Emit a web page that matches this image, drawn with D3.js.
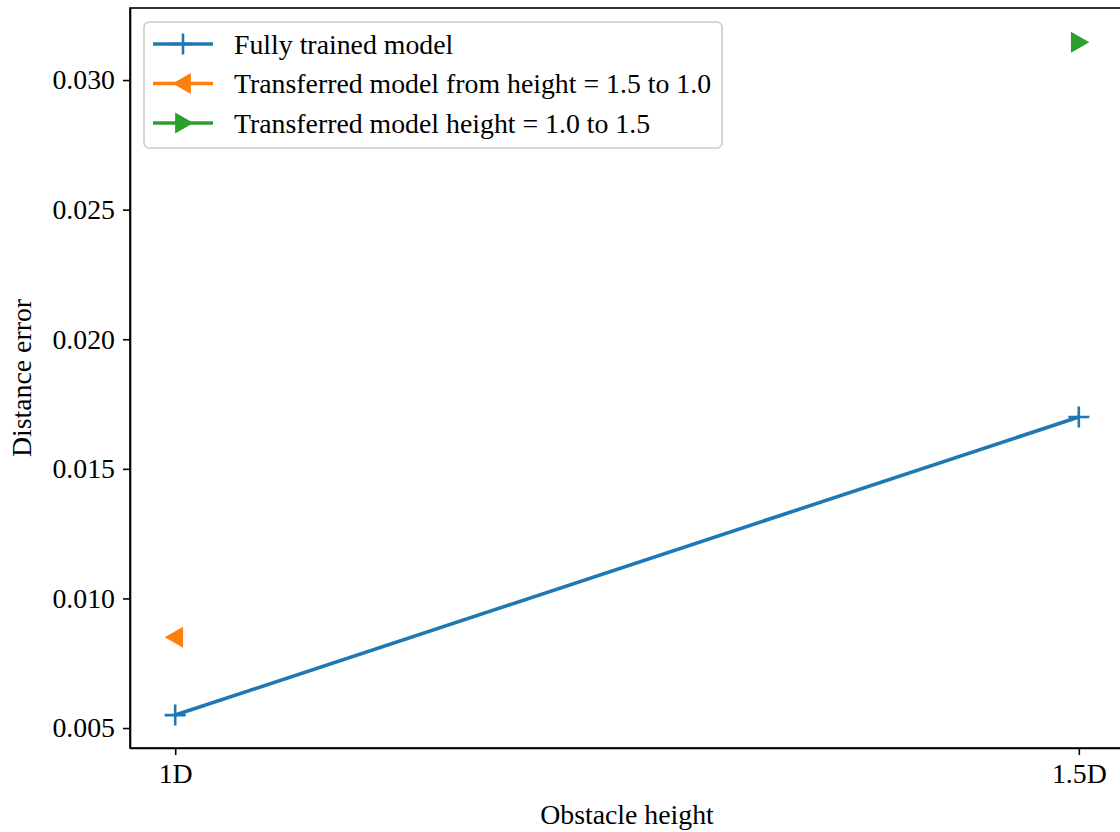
<!DOCTYPE html>
<meta charset="utf-8">
<head>
    <title>Distance error</title>
    <script src="https://cdn.jsdelivr.net/npm/d3@7"></script>
</head>

<style>
    body { margin: 0; background: white; }
    text { font-family: "Liberation Serif", "Times New Roman", serif; fill: black; }
</style>

<svg></svg>

<script>
    var vWidth = 1120;
    var vHeight = 832;

    // Data
    var categories = ["1D", "1.5D"];
    var fullyTrained = [0.0055, 0.0170];
    var transferredDown = [0.0085, null];   // height 1.5 -> 1.0
    var transferredUp = [null, 0.03146];    // height 1.0 -> 1.5
    var yTicks = [0.005, 0.010, 0.015, 0.020, 0.025, 0.030];
    var seriesNames = ["Fully trained model",
        "Transferred model from height = 1.5 to 1.0",
        "Transferred model height = 1.0 to 1.5"];
    var colors = ["#1f77b4", "#ff7f0e", "#2ca02c"];

    var margin = {left: 130, top: 8, right: -4, bottom: 84};
    var fs = 27.8;

    var svg = d3.select('svg').attr('width', vWidth).attr('height', vHeight);

    var x = d3.scaleLinear().domain([-0.05, 1.05])
        .range([margin.left, vWidth - margin.right]);
    var y = d3.scaleLinear().domain([0.00423, 0.03278])
        .range([vHeight - margin.bottom, margin.top]);

    // Axes
    var xAxis = d3.axisBottom(x).tickValues([0, 1])
        .tickFormat(function (d) { return categories[d]; }).tickSizeInner(7).tickSizeOuter(0).tickPadding(8);
    var yAxis = d3.axisLeft(y).tickValues(yTicks)
        .tickFormat(d3.format('.3f')).tickSizeInner(7).tickSizeOuter(0).tickPadding(8);

    var gx = svg.append('g').attr('transform', 'translate(0,' + (vHeight - margin.bottom) + ')').call(xAxis);
    var gy = svg.append('g').attr('transform', 'translate(' + margin.left + ',0)').call(yAxis);
    [gx, gy].forEach(function (g) {
        g.attr('font-family', null).attr('font-size', null);
        g.selectAll('text').style('font-size', fs + 'px');
        g.selectAll('line, path').attr('stroke', 'black').attr('stroke-width', 1.6);
    });

    // Frame
    svg.append('rect')
        .attr('x', x.range()[0]).attr('y', y.range()[1])
        .attr('width', x.range()[1] - x.range()[0])
        .attr('height', y.range()[0] - y.range()[1])
        .attr('fill', 'none').attr('stroke', 'black').attr('stroke-width', 1.6);

    // Axis labels
    svg.append('text').attr('x', (x.range()[0] + 1120) / 2 + 2).attr('y', 824)
        .attr('text-anchor', 'middle').style('font-size', fs + 'px').text('Obstacle height');
    svg.append('text').attr('transform', 'translate(31,' + ((y.range()[0] + y.range()[1]) / 2) + ') rotate(-90)')
        .attr('text-anchor', 'middle').style('font-size', fs + 'px').text('Distance error');

    // Markers
    function plus(g, cx, cy, color, s) {
        g.append('path').attr('d', 'M' + (cx - s) + ',' + cy + 'H' + (cx + s) + 'M' + cx + ',' + (cy - s) + 'V' + (cy + s))
            .attr('stroke', color).attr('stroke-width', 2.6).attr('fill', 'none');
    }
    function tri(g, cx, cy, color, dir, s) {
        var pts = dir < 0
            ? [[cx - s, cy], [cx + s * 0.75, cy - s], [cx + s * 0.75, cy + s]]
            : [[cx + s, cy], [cx - s * 0.75, cy - s], [cx - s * 0.75, cy + s]];
        g.append('path').attr('d', 'M' + pts.join('L') + 'Z').attr('fill', color);
    }

    var plot = svg.append('g');
    var idx = d3.range(categories.length);
    var line = d3.line().defined(function (i) { return fullyTrained[i] != null; })
        .x(function (i) { return x(i); }).y(function (i) { return y(fullyTrained[i]); });
    plot.append('path').datum(idx).attr('d', line)
        .attr('fill', 'none').attr('stroke', colors[0]).attr('stroke-width', 3.6);
    idx.forEach(function (i) {
        if (fullyTrained[i] != null) plus(plot, x(i), y(fullyTrained[i]), colors[0], 10.5);
        if (transferredDown[i] != null) tri(plot, x(i), y(transferredDown[i]), colors[1], -1, 10.5);
        if (transferredUp[i] != null) tri(plot, x(i), y(transferredUp[i]), colors[2], 1, 10.5);
    });

    // Legend
    var lg = svg.append('g');
    lg.append('rect').attr('x', 144).attr('y', 22).attr('width', 578).attr('height', 126)
        .attr('rx', 5).attr('fill', 'white').attr('fill-opacity', 0.8)
        .attr('stroke', '#cccccc').attr('stroke-width', 1.6);
    seriesNames.forEach(function (name, i) {
        var ly = 44 + i * 39.5;
        lg.append('line').attr('x1', 153).attr('x2', 213).attr('y1', ly).attr('y2', ly)
            .attr('stroke', colors[i]).attr('stroke-width', 3.6);
        if (i === 0) plus(lg, 183, ly, colors[0], 10.5);
        else tri(lg, 183, ly, colors[i], i === 1 ? -1 : 1, 10.5);
        lg.append('text').attr('x', 234).attr('y', ly).attr('dy', '0.35em')
            .style('font-size', fs + 'px').text(name);
    });
</script>
